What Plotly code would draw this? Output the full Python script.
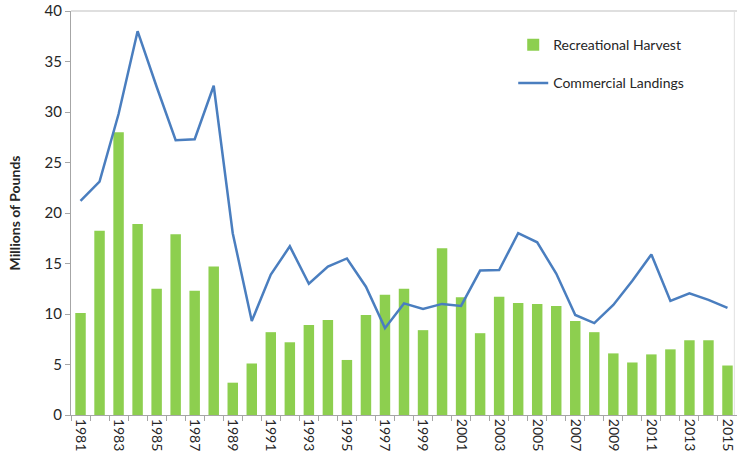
import plotly.graph_objects as go

years = list(range(1981, 2016))
recreational = [10.1, 18.25, 28.0, 18.9, 12.5, 17.9, 12.3, 14.7, 3.2, 5.1,
                8.2, 7.2, 8.9, 9.4, 5.45, 9.9, 11.9, 12.5, 8.4, 16.5,
                11.65, 8.1, 11.7, 11.1, 11.0, 10.8, 9.3, 8.2, 6.1, 5.2,
                6.0, 6.5, 7.4, 7.4, 4.9]
commercial = [21.2, 23.1, 29.8, 38.0, 32.5, 27.2, 27.3, 32.6, 18.0, 9.3,
              13.9, 16.7, 13.0, 14.7, 15.5, 12.7, 8.6, 11.05, 10.5, 11.0,
              10.8, 14.3, 14.35, 18.0, 17.1, 14.0, 9.9, 9.1, 10.9, 13.3,
              15.9, 11.3, 12.05, 11.4, 10.6]
tick_years = years[::2]
tick_text = [str(y) for y in tick_years]

font_family = "Lato, 'Open Sans', sans-serif"

fig = go.Figure()
fig.add_trace(go.Bar(x=years, y=recreational, name="Recreational Harvest",
                     legendgroup="rec",
                     marker=dict(color="#8DCF4F", line=dict(width=0))))
fig.add_trace(go.Scatter(x=years, y=commercial, name="Commercial Landings",
                         legendgroup="com",
                         mode="lines", line=dict(color="#4A7EBF", width=2.5)))

fig.update_layout(
    width=737, height=461,
    margin=dict(l=71, r=0, t=11, b=46),
    paper_bgcolor="white", plot_bgcolor="white",
    bargap=0.45,
    font=dict(family=font_family, size=14, color="#262626"),
    showlegend=True,
    legend=dict(x=0.664, y=0.955, xanchor="left", yanchor="top",
                bgcolor="rgba(0,0,0,0)", font=dict(size=14, color="#262626"),
                itemwidth=30, tracegroupgap=17, traceorder="grouped"),
    xaxis=dict(range=[1980.5, 2015.5], tickmode="array", tickvals=tick_years,
               ticktext=tick_text, tickangle=90, ticks="", showgrid=False,
               showline=True, linecolor="#A6A6A6", linewidth=1, zeroline=False,
               automargin=False, ticklabeloverflow="allow",
               tickfont=dict(size=14, color="#262626"),
               minor=dict(tickmode="linear", tick0=1980.5, dtick=1, ticks="outside",
                          ticklen=5, tickcolor="#A6A6A6", showgrid=False)),
    yaxis=dict(range=[0, 40], dtick=5, ticks="outside", ticklen=5,
               tickcolor="#A6A6A6", showgrid=False, showline=True,
               linecolor="#A6A6A6", linewidth=1, zeroline=False,
               automargin=False, ticklabeloverflow="allow",
               tickfont=dict(size=15, color="#262626"),
               title=dict(text="<b>Millions of Pounds</b>", font=dict(size=14, color="#262626"),
                          standoff=20)),
)
fig.add_shape(type="line", xref="paper", yref="paper", x0=0, x1=1, y0=1, y1=1,
              line=dict(color="#BFBFBF", width=1))
fig.add_shape(type="line", xref="paper", yref="paper", x0=0.996, x1=0.996, y0=0, y1=1,
              line=dict(color="#E0E0E0", width=1))

fig.write_html("out.html", config={"displayModeBar": False},
               post_script="document.body.style.margin='0px';document.body.style.overflow='hidden';")
